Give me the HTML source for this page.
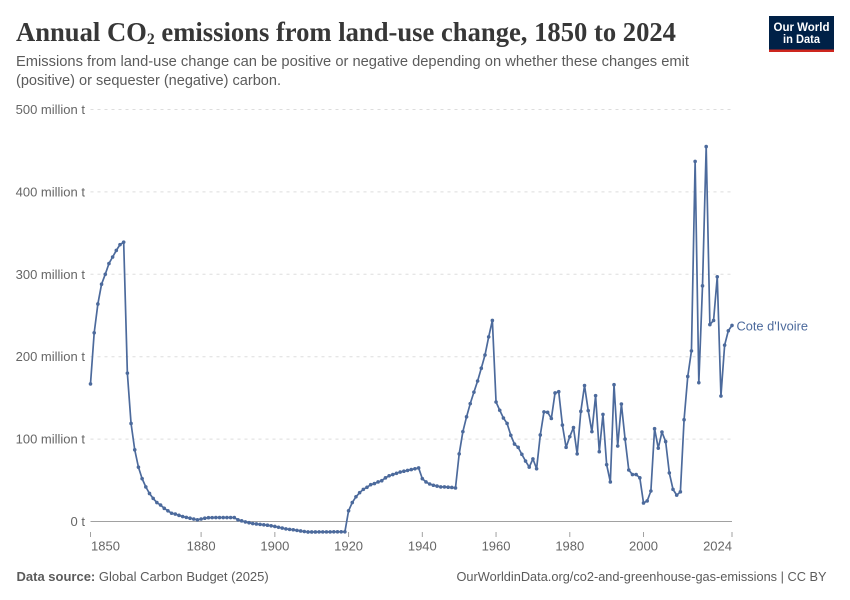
<!DOCTYPE html>
<html lang="en">
<head>
<meta charset="utf-8">
<title>Annual CO2 emissions from land-use change, 1850 to 2024</title>
<style>
html,body{margin:0;padding:0;background:#fff;}
svg{display:block;}
text{font-family:"Liberation Sans",sans-serif;}
.title{font-family:"Liberation Serif",serif;font-weight:700;font-size:27px;fill:#373737;}
.sub{font-size:15px;fill:#5b5b5b;}
.tick{font-size:13px;fill:#666;}
.foot{font-size:13px;fill:#5b5b5b;}
</style>
</head>
<body>
<svg id="chart" width="850" height="600" viewBox="0 0 850 600" xmlns="http://www.w3.org/2000/svg">
  <rect width="850" height="600" fill="#fff"/>
  <text class="title" x="16" y="41" textLength="660" lengthAdjust="spacingAndGlyphs">Annual CO<tspan font-size="16" dy="3">2</tspan><tspan dy="-3"> emissions from land-use change, 1850 to 2024</tspan></text>
  <text class="sub" x="16" y="66" textLength="673" lengthAdjust="spacingAndGlyphs">Emissions from land-use change can be positive or negative depending on whether these changes emit</text>
  <text class="sub" x="16" y="85" textLength="265" lengthAdjust="spacingAndGlyphs">(positive) or sequester (negative) carbon.</text>

  <g>
    <rect x="769" y="16" width="65" height="36" fill="#002147"/>
    <rect x="769" y="49.5" width="65" height="2.5" fill="#ce261e"/>
    <text x="801.5" y="31" text-anchor="middle" font-size="12" font-weight="700" fill="#fff" textLength="56" lengthAdjust="spacingAndGlyphs">Our World</text>
    <text x="801.5" y="43" text-anchor="middle" font-size="12" font-weight="700" fill="#fff" textLength="37" lengthAdjust="spacingAndGlyphs">in Data</text>
  </g>

  <g id="y-axis"></g>
  <g id="x-axis"></g>
  <g id="series"></g>

  <text x="736.5" y="330.5" font-size="13" fill="#4c6a9c" textLength="71.5" lengthAdjust="spacingAndGlyphs">Cote d'Ivoire</text>

  <text class="foot" x="16.5" y="581"><tspan font-weight="700">Data source:</tspan> <tspan>Global Carbon Budget (2025)</tspan></text>
  <text class="foot" x="456.5" y="581" textLength="370" lengthAdjust="spacingAndGlyphs">OurWorldinData.org/co2-and-greenhouse-gas-emissions | CC BY</text>
</svg>
<script>
const firstYear = 1850;
const seriesName = "Cote d'Ivoire";
const emissions = [
  167, 229, 264, 288, 300, 313, 321, 329, 336, 339,
  180, 119, 87, 66, 52, 42, 34, 28, 23, 20,
  16, 13, 10, 9, 7.5, 6, 5, 4, 3, 2,
  3, 4, 4.6, 4.7, 4.8, 4.8, 4.8, 4.8, 4.8, 4.8,
  2, 0.8, -0.5, -1.5, -2.5, -3, -3.5, -4, -4.5, -5.2,
  -6, -7, -8, -9, -9.6, -10, -10.8, -11.5, -12.2, -12.7,
  -12.7, -12.7, -12.6, -12.6, -12.6, -12.6, -12.5, -12.5, -12.5, -12.5,
  13, 23, 30, 35, 39, 41.5, 44.7, 46, 48, 49.5,
  53, 55.5, 57, 58.5, 60, 61, 62, 63, 64, 65,
  52, 48, 45.5, 44, 43, 42, 42, 41.6, 41.3, 40.7,
  82, 109, 127, 143, 157, 170.5, 186, 202, 224, 244,
  145, 135, 125.6, 119, 104.6, 94, 90, 81.5, 73.4, 66,
  76, 64, 105, 133, 132.5, 125, 156, 157.5, 117, 90,
  103, 114, 82, 133.7, 165, 134.5, 109, 152.7, 84.7, 130,
  69, 48, 166, 91.6, 142.6, 100, 62.5, 57, 57, 53,
  22.5, 25, 37, 112.6, 89, 108.6, 97, 59, 39, 32,
  36, 123.5, 176, 207, 437, 168.5, 286, 455, 239, 244,
  297, 152.3, 214, 231.5, 238
];
const yTickValues = [0, 100, 200, 300, 400, 500];
const yTickLabels = ["0 t", "100 million t", "200 million t", "300 million t", "400 million t", "500 million t"];
const xTickYears = [1850, 1880, 1900, 1920, 1940, 1960, 1980, 2000, 2024];
const xTickLabels = ["1850", "1880", "1900", "1920", "1940", "1960", "1980", "2000", "2024"];

const years = emissions.map(function (_, i) { return firstYear + i; });
const NS = "http://www.w3.org/2000/svg";
function xScale(year) { return 90.5 + (year - 1850) * (732 - 90.5) / (2024 - 1850); }
function yScale(value) { return 521.5 - value * (521.5 - 109.5) / 500; }
function make(tag, attrs, parent) {
  const el = document.createElementNS(NS, tag);
  Object.keys(attrs).forEach(function (k) { el.setAttribute(k, attrs[k]); });
  parent.appendChild(el);
  return el;
}

const yAxis = document.getElementById("y-axis");
yTickValues.forEach(function (v, i) {
  const y = yScale(v);
  const line = make("line", { x1: 90.5, x2: 732, y1: y, y2: y, stroke: v === 0 ? "#a1a1a1" : "#dddddd", "stroke-width": 1, "stroke-dasharray": v === 0 ? "none" : "3,4" }, yAxis);
  
  
  const label = make("text", { x: 85, y: y + 4.5, "text-anchor": "end", "class": "tick" }, yAxis);
  label.textContent = yTickLabels[i];
  
  
});

const xAxis = document.getElementById("x-axis");
xTickYears.forEach(function (yr, i) {
  const x = xScale(yr);
  const tick = make("line", { x1: x, x2: x, y1: 532, y2: 537, stroke: "#a1a1a1", "stroke-width": 1 }, xAxis);
  
  
  const first = i === 0;
  const last = i === xTickYears.length - 1;
  const label = make("text", { x: first ? x + 0.5 : x, y: 550.5, "text-anchor": first ? "start" : (last ? "end" : "middle"), "class": "tick" }, xAxis);
  label.textContent = xTickLabels[i];
  
  
});

const series = document.getElementById("series");
const pathData = emissions.map(function (v, i) {
  return (i === 0 ? "M" : "L") + xScale(years[i]).toFixed(2) + " " + yScale(v).toFixed(2);
}).join(" ");
const seriesLine = make("path", { d: pathData, fill: "none", stroke: "#4c6a9c", "stroke-width": 1.7, "stroke-linejoin": "round" }, series);


emissions.forEach(function (v, i) {
  const dot = make("circle", { cx: xScale(years[i]), cy: yScale(v), r: 1.8, fill: "#4c6a9c" }, series);
  
  
});
</script>
</body>
</html>
